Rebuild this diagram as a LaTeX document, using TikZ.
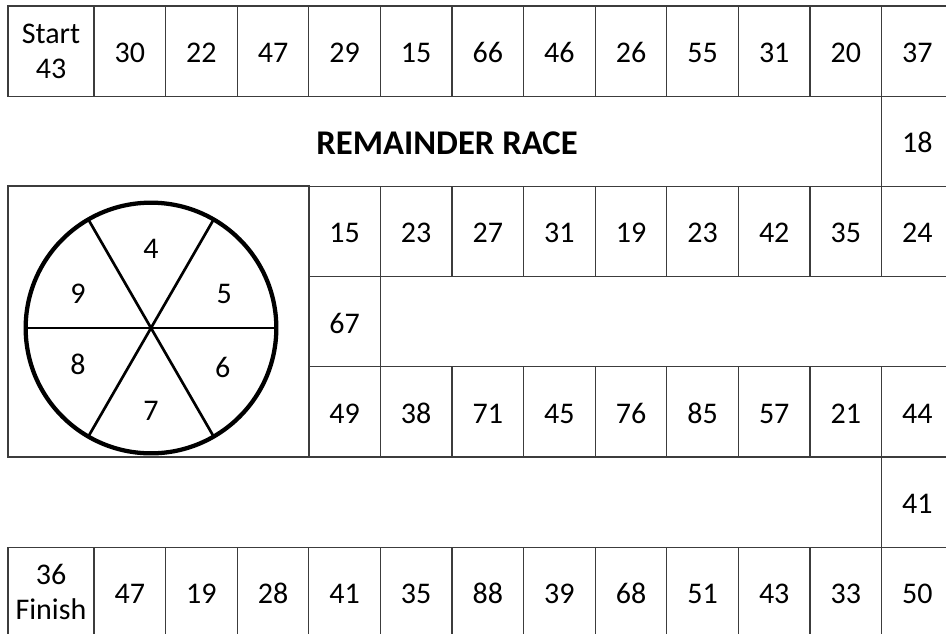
\documentclass[tikz,border=0pt]{standalone}
\usepackage{fontspec}
\setmainfont{Carlito}
\usetikzlibrary{calc,positioning}
\definecolor{BoardLine}{RGB}{60,60,60}

\tikzset{
  box/.style={draw=BoardLine, line width=1pt, inner sep=0pt, outer sep=0pt,
    minimum width=53.7pt, minimum height=67.65pt, align=center},
  cell/.style={box, text height=17pt, text depth=0pt},
  wide cell/.style={box, minimum width=64.5pt},
  spoke/.style={black, line width=2pt},
}

\begin{document}
\begin{tikzpicture}[x=0.75pt, y=-0.75pt, font=\fontsize{22.5}{26.5}\selectfont]
  \useasboundingbox (0,0) rectangle (946,633);
  \clip (0,0) rectangle (946,633);

  % Top row (start)
  \node[wide cell] (top0) at (51,51.1) {Start\\43};
  \foreach \v [count=\i] in {30,22,47,29,15,66,46,26,55,31,20,37}
    \node[cell] (top\i) at ({94+71.6*(\i-0.5)},51.1) {\v};

  % Title row
  \node[cell] (side1) at (917.4,141.3) {18};
  \node[font=\fontsize{26}{30}\selectfont\bfseries] (title) at (447,143) {REMAINDER RACE};

  % Spinner box
  \node[box, minimum width=225.75pt, minimum height=203.25pt] (wheelbox) at (158.5,321.5) {};

  % Middle rows
  \foreach \v [count=\i] in {15,23,27,31,19,23,42,35,24}
    \node[cell] (mid\i) at ({94+71.6*(\i+2.5)},231.5) {\v};
  \node[cell] (turn) at (344.6,321.7) {67};
  \foreach \v [count=\i] in {49,38,71,45,76,85,57,21,44}
    \node[cell] (low\i) at ({94+71.6*(\i+2.5)},411.9) {\v};
  \node[cell] (side2) at (917.4,502.1) {41};

  % Bottom row (finish)
  \node[wide cell] (bot0) at (51,592.3) {36\\Finish};
  \foreach \v [count=\i] in {47,19,28,41,35,88,39,68,51,43,33,50}
    \node[cell] (bot\i) at ({94+71.6*(\i-0.5)},592.3) {\v};

  % Spinner
  \node[circle, draw=black, line width=3.2pt, inner sep=0pt, outer sep=0pt,
    minimum size=188pt] (wheel) at (151,328) {};
  \draw[spoke] (wheel.0) -- (wheel.180);
  \draw[spoke] (wheel.60) -- (wheel.240);
  \draw[spoke] (wheel.120) -- (wheel.300);
  \foreach \n/\a in {4/90,5/26,6/-28,7/-90,8/-154,9/154}
    \node[text height=17pt, text depth=0pt, inner sep=0pt] (num\n)
      at ($(wheel.center)+(\a:61pt)$) {\n};
\end{tikzpicture}
\end{document}
